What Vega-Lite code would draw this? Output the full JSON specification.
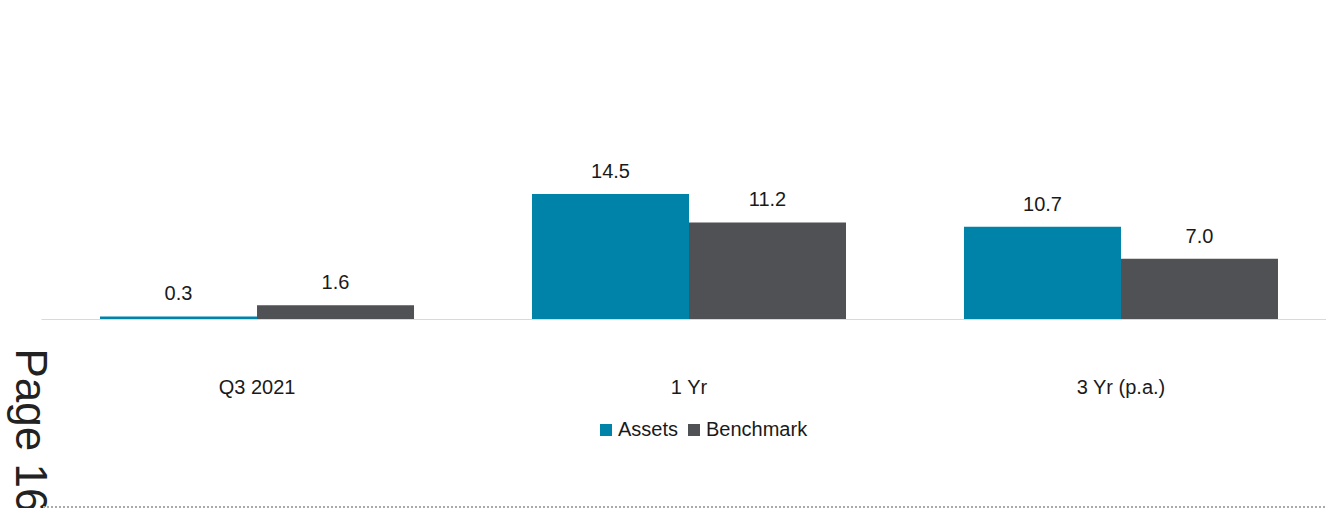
{
  "$schema": "https://vega.github.io/schema/vega-lite/v6.json",
  "width": 1296,
  "height": 138,
  "autosize": {"type": "none"},
  "padding": {"left": 41, "top": 181, "right": 0, "bottom": 189},
  "config": {"font": "Liberation Sans", "view": {"stroke": null}},
  "data": {
    "values": [
      {"period": "Q3 2021", "series": "Assets", "value": 0.3},
      {"period": "Q3 2021", "series": "Benchmark", "value": 1.6},
      {"period": "1 Yr", "series": "Assets", "value": 14.5},
      {"period": "1 Yr", "series": "Benchmark", "value": 11.2},
      {"period": "3 Yr (p.a.)", "series": "Assets", "value": 10.7},
      {"period": "3 Yr (p.a.)", "series": "Benchmark", "value": 7.0}
    ]
  },
  "layer": [
    {
      "mark": {"type": "bar"},
      "encoding": {
        "x": {
          "field": "period", "type": "nominal", "sort": ["Q3 2021", "1 Yr", "3 Yr (p.a.)"],
          "scale": {"paddingInner": 0.2731, "paddingOuter": 0.1366},
          "axis": {"title": null, "labelAngle": 0, "labelFontSize": 20, "labelColor": "#1a1a1a", "labelPadding": 58, "ticks": false, "domainColor": "#d9d9d9", "domainWidth": 1}
        },
        "xOffset": {"field": "series", "type": "nominal", "scale": {"paddingInner": 0, "paddingOuter": 0}},
        "y": {
          "field": "value", "type": "quantitative",
          "scale": {"domain": [0, 16], "nice": false, "zero": true},
          "axis": {"title": "Page 16", "domain": false, "labels": false, "ticks": false, "grid": false,
                   "titleAngle": 90, "titleFontSize": 44, "titleFontWeight": "normal", "titleColor": "#222222",
                   "titleX": -26, "titleY": 167, "titleAlign": "left", "titleBaseline": "alphabetic"}
        },
        "color": {
          "field": "series", "type": "nominal",
          "scale": {"domain": ["Assets", "Benchmark"], "range": ["#0083a9", "#505155"]},
          "legend": {"title": null, "orient": "none", "legendX": 555, "legendY": 239, "direction": "horizontal",
                     "symbolType": "square", "symbolSize": 144, "symbolStrokeWidth": 0, "labelFontSize": 20, "labelColor": "#1a1a1a",
                     "columnPadding": 5, "labelOffset": 2}
        }
      }
    },
    {
      "mark": {"type": "text", "baseline": "alphabetic", "dy": -16, "fontSize": 20, "color": "#1a1a1a"},
      "encoding": {
        "x": {"field": "period", "type": "nominal", "sort": ["Q3 2021", "1 Yr", "3 Yr (p.a.)"]},
        "xOffset": {"field": "series", "type": "nominal"},
        "y": {"field": "value", "type": "quantitative"},
        "text": {"field": "value", "type": "quantitative", "format": ".1f"}
      }
    },
    {
      "mark": {"type": "rule", "color": "#aaaaaa", "strokeDash": [2, 2], "strokeWidth": 1.5},
      "encoding": {"y": {"datum": -21.8, "type": "quantitative"}}
    }
  ]
}
